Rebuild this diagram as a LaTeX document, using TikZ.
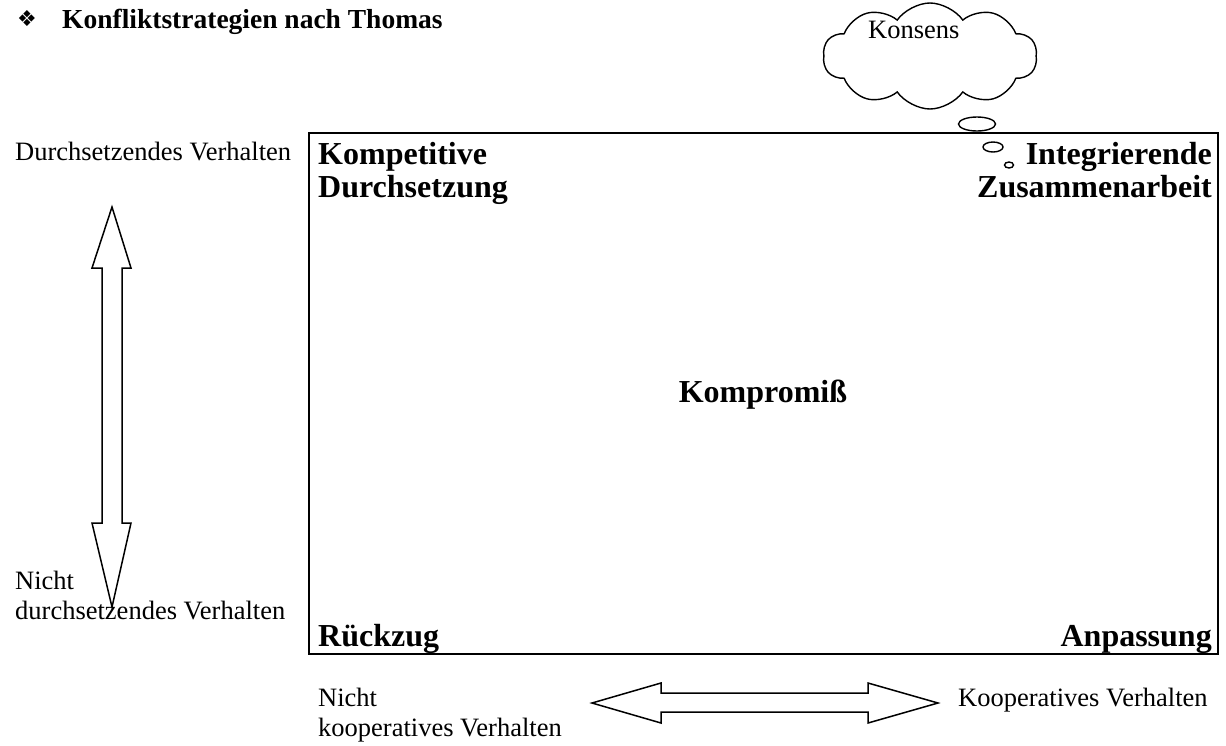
\documentclass[tikz,border=0pt]{standalone}
\usepackage{fontspec}
\setmainfont{Liberation Serif}
\newfontfamily\symfont{DejaVu Sans}
\usetikzlibrary{shapes.symbols,shapes.geometric}
\tikzset{
  plain/.style={font=\fontsize{26.5}{30}\selectfont, inner sep=0pt},
  boldlbl/.style={font=\bfseries\fontsize{32}{32}\selectfont, inner sep=0pt},
  outline/.style={draw=black, line width=1.5pt, line join=miter},
  bubble/.style={draw=black, line width=1.4pt, ellipse, inner sep=0pt},
}
\begin{document}
\begin{tikzpicture}[x=1pt,y=-1pt]
\useasboundingbox (0,0) rectangle (1226,745);
% title
\node[anchor=base west, inner sep=0pt, font=\symfont\fontsize{22}{26}\selectfont] (bullet) at (17,26) {❖};
\node[anchor=base west, inner sep=0pt, font=\bfseries\fontsize{27.5}{32}\selectfont] (title) at (62,28) {Konfliktstrategien nach Thomas};
% main box
\node[draw=black, line width=2pt, minimum width=909pt, minimum height=521pt, inner sep=0pt, anchor=north west] (box) at (308,132) {};
% corner labels
\node[boldlbl, anchor=base west] (kompetitive) at (318,164) {Kompetitive};
\node[boldlbl, anchor=base west] (durchsetzung) at (318,197) {Durchsetzung};
\node[boldlbl, anchor=base east] (integrierende) at (1212,164) {Integrierende};
\node[boldlbl, anchor=base east] (zusammen) at (1212,197) {Zusammenarbeit};
\node[boldlbl, anchor=base] (kompromiss) at (763,402) {Kompromiß};
\node[boldlbl, anchor=base west] (rueckzug) at (318,646) {Rückzug};
\node[boldlbl, anchor=base east] (anpassung) at (1212,646) {Anpassung};
% cloud and thought bubbles
\node[cloud, draw=black, line width=1.4pt, cloud puffs=10, cloud puff arc=110, aspect=2.1, minimum width=214pt, minimum height=106pt, inner sep=0pt] (cloud) at (930,56) {};
\node[plain, anchor=base west] (konsens) at (868,38) {Konsens};
\node[bubble, minimum width=37pt, minimum height=14pt] (b1) at (977,124) {};
\node[bubble, minimum width=20pt, minimum height=10pt] (b2) at (993,147) {};
\node[bubble, minimum width=9pt, minimum height=6pt] (b3) at (1009,165) {};
% left axis labels
\node[plain, anchor=base west] (durch) at (15,160) {Durchsetzendes Verhalten};
\node[plain, anchor=base west] (nicht1) at (15,589) {Nicht};
\node[plain, anchor=base west] (nichtdurch) at (15,619) {durchsetzendes Verhalten};
% vertical double arrow
\draw[outline] (112,207) -- (131,268) -- (122,268) -- (122,523) -- (131,523) -- (112,607)
  -- (92,523) -- (102,523) -- (102,268) -- (92,268) -- cycle;
% bottom axis labels
\node[plain, anchor=base west] (nicht2) at (318,706) {Nicht};
\node[plain, anchor=base west] (nichtkoop) at (318,736) {kooperatives Verhalten};
\node[plain, anchor=base west] (koop) at (958,706) {Kooperatives Verhalten};
% horizontal double arrow
\draw[outline] (592,703) -- (661,683) -- (661,693) -- (868,693) -- (868,683) -- (938,703)
  -- (868,723) -- (868,712) -- (661,712) -- (661,723) -- cycle;
\end{tikzpicture}
\end{document}
